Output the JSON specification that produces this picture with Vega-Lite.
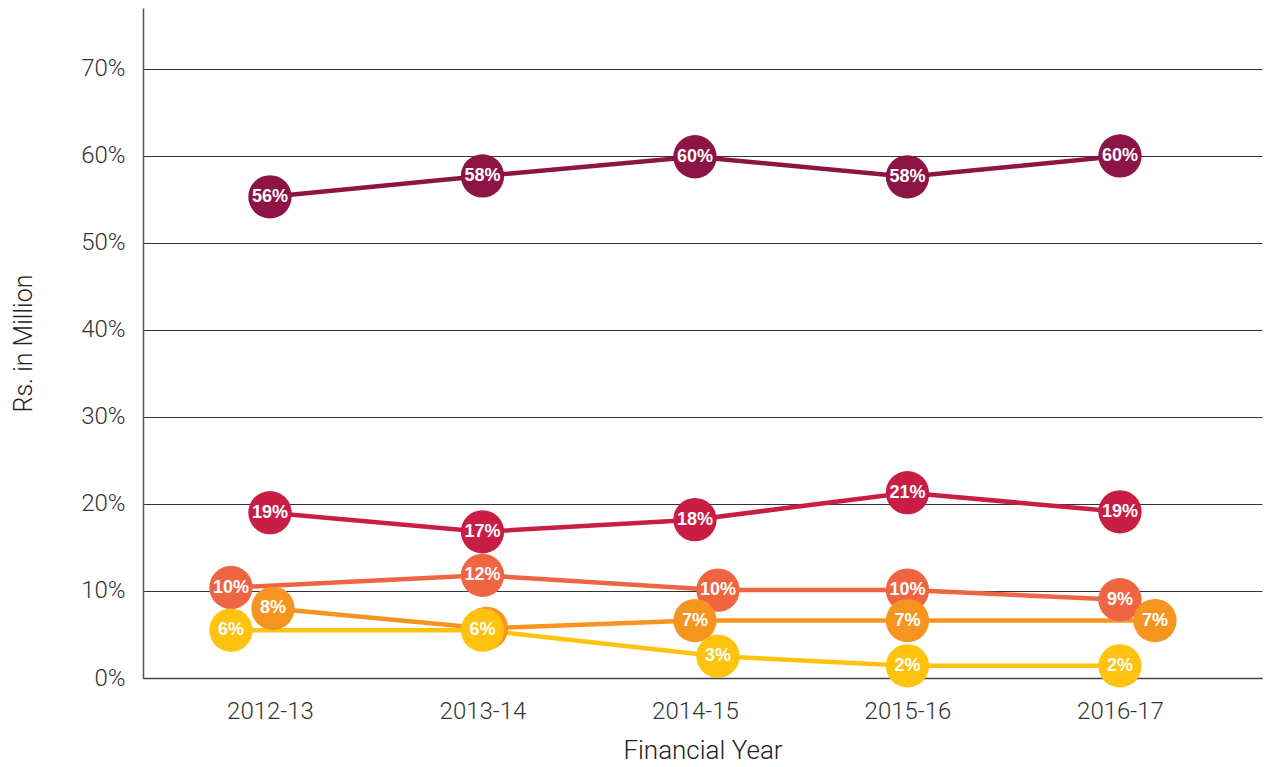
{
  "$schema": "https://vega.github.io/schema/vega-lite/v6.json",
  "width": 1119,
  "height": 670,
  "autosize": {"type": "none"},
  "padding": {"left": 143, "top": 8, "right": 2, "bottom": 89},
  "background": "white",
  "config": {"view": {"stroke": null}, "font": "Roboto"},
  "data": {
    "values": [
      {"year": "2012-13", "series": "Series 1", "value": 0.553, "label": "56%"},
      {"year": "2012-13", "series": "Series 2", "value": 0.190, "label": "19%"},
      {"year": "2012-13", "series": "Series 3", "value": 0.104, "label": "10%"},
      {"year": "2012-13", "series": "Series 4", "value": 0.080, "label": "8%"},
      {"year": "2012-13", "series": "Series 5", "value": 0.055, "label": "6%"},
      {"year": "2013-14", "series": "Series 1", "value": 0.577, "label": "58%"},
      {"year": "2013-14", "series": "Series 2", "value": 0.168, "label": "17%"},
      {"year": "2013-14", "series": "Series 3", "value": 0.118, "label": "12%"},
      {"year": "2013-14", "series": "Series 4", "value": 0.057, "label": "6%"},
      {"year": "2013-14", "series": "Series 5", "value": 0.055, "label": "6%"},
      {"year": "2014-15", "series": "Series 1", "value": 0.599, "label": "60%"},
      {"year": "2014-15", "series": "Series 2", "value": 0.182, "label": "18%"},
      {"year": "2014-15", "series": "Series 3", "value": 0.101, "label": "10%"},
      {"year": "2014-15", "series": "Series 4", "value": 0.066, "label": "7%"},
      {"year": "2014-15", "series": "Series 5", "value": 0.025, "label": "3%"},
      {"year": "2015-16", "series": "Series 1", "value": 0.576, "label": "58%"},
      {"year": "2015-16", "series": "Series 2", "value": 0.213, "label": "21%"},
      {"year": "2015-16", "series": "Series 3", "value": 0.101, "label": "10%"},
      {"year": "2015-16", "series": "Series 4", "value": 0.066, "label": "7%"},
      {"year": "2015-16", "series": "Series 5", "value": 0.014, "label": "2%"},
      {"year": "2016-17", "series": "Series 1", "value": 0.600, "label": "60%"},
      {"year": "2016-17", "series": "Series 2", "value": 0.191, "label": "19%"},
      {"year": "2016-17", "series": "Series 3", "value": 0.090, "label": "9%"},
      {"year": "2016-17", "series": "Series 4", "value": 0.066, "label": "7%"},
      {"year": "2016-17", "series": "Series 5", "value": 0.014, "label": "2%"}
    ]
  },
  "encoding": {
    "x": {
      "field": "year",
      "type": "ordinal",
      "scale": {"type": "point", "padding": 0.633, "align": 0.472},
      "axis": {
        "title": "Financial Year",
        "labelAngle": 0,
        "labelFontSize": 24,
        "labelFontWeight": 300,
        "labelColor": "#333333",
        "labelPadding": 21,
        "ticks": false,
        "domain": true,
        "domainColor": "#444444",
        "domainWidth": 1.5,
        "titleFontSize": 26,
        "titleFontWeight": 300,
        "titleColor": "#222222",
        "titlePadding": 14,
        "grid": false
      }
    },
    "y": {
      "field": "value",
      "type": "quantitative",
      "scale": {"domain": [0, 0.77], "nice": false},
      "axis": {
        "title": "Rs. in Million",
        "values": [0, 0.1, 0.2, 0.3, 0.4, 0.5, 0.6, 0.7],
        "format": ".0%",
        "labelFontSize": 24,
        "labelFontWeight": 300,
        "labelColor": "#333333",
        "labelPadding": 18,
        "ticks": false,
        "domain": true,
        "domainColor": "#555555",
        "domainWidth": 1.5,
        "grid": true,
        "gridColor": "#333333",
        "gridWidth": 1,
        "titleFontSize": 25,
        "titleFontWeight": 300,
        "titleColor": "#222222",
        "titlePadding": 44
      }
    },
    "color": {
      "field": "series",
      "type": "nominal",
      "scale": {
        "domain": ["Series 1", "Series 2", "Series 3", "Series 4", "Series 5"],
        "range": ["#8C1545", "#C81E46", "#EF6441", "#F5951F", "#FEC20F"]
      },
      "legend": null
    }
  },
  "layer": [
    {
      "mark": {
        "type": "line",
        "strokeWidth": 4.5,
        "xOffset": {"expr": "(datum.year=='2012-13' && (datum.series=='Series 3' || datum.series=='Series 5')) ? -39 : (datum.year=='2012-13' && datum.series=='Series 4') ? 3 : (datum.year=='2013-14' && datum.series=='Series 4') ? 4 : (datum.year=='2014-15' && (datum.series=='Series 3' || datum.series=='Series 5')) ? 23 : (datum.year=='2016-17' && datum.series=='Series 4') ? 35 : 0"}
      }
    },
    {
      "transform": [{"filter": "datum.series != 'Series 5'"}],
      "mark": {
        "type": "circle",
        "size": 1880,
        "opacity": 1,
        "xOffset": {"expr": "(datum.year=='2012-13' && datum.series=='Series 3') ? -39 : (datum.year=='2012-13' && datum.series=='Series 4') ? 3 : (datum.year=='2013-14' && datum.series=='Series 4') ? 4 : (datum.year=='2014-15' && datum.series=='Series 3') ? 23 : (datum.year=='2016-17' && datum.series=='Series 4') ? 35 : 0"}
      }
    },
    {
      "transform": [{"filter": "datum.series != 'Series 5'"}],
      "mark": {
        "type": "text",
        "fontSize": 18,
        "fontWeight": "bold",
        "font": "Liberation Sans",
        "baseline": "middle",
        "align": "center",
        "xOffset": {"expr": "(datum.year=='2012-13' && datum.series=='Series 3') ? -39 : (datum.year=='2012-13' && datum.series=='Series 4') ? 3 : (datum.year=='2013-14' && datum.series=='Series 4') ? 4 : (datum.year=='2014-15' && datum.series=='Series 3') ? 23 : (datum.year=='2016-17' && datum.series=='Series 4') ? 35 : 0"}
      },
      "encoding": {
        "text": {"field": "label"},
        "color": {"value": "white"}
      }
    },
    {
      "transform": [{"filter": "datum.series == 'Series 5'"}],
      "mark": {
        "type": "circle",
        "size": 1880,
        "opacity": 1,
        "xOffset": {"expr": "datum.year=='2012-13' ? -39 : (datum.year=='2014-15' ? 23 : 0)"}
      }
    },
    {
      "transform": [{"filter": "datum.series == 'Series 5'"}],
      "mark": {
        "type": "text",
        "fontSize": 18,
        "fontWeight": "bold",
        "font": "Liberation Sans",
        "baseline": "middle",
        "align": "center",
        "xOffset": {"expr": "datum.year=='2012-13' ? -39 : (datum.year=='2014-15' ? 23 : 0)"}
      },
      "encoding": {
        "text": {"field": "label"},
        "color": {"value": "white"}
      }
    }
  ]
}
